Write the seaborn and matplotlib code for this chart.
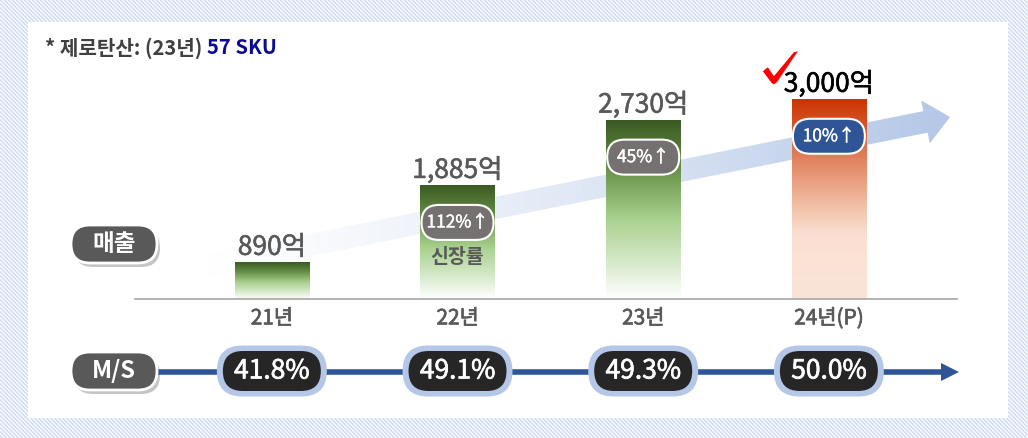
import numpy as np
import pandas as pd
import matplotlib
matplotlib.use('Agg')
import matplotlib.pyplot as plt
import matplotlib.patches as mpatches
import matplotlib.patheffects as pe
from matplotlib.colors import LinearSegmentedColormap, to_rgb
import seaborn as sns

# data
years = ['21년', '22년', '23년', '24년(P)']
sales = [890, 1885, 2730, 3000]          # 억
growth = [None, 112, 45, 10]             # % vs previous year
ms_share = [41.8, 49.1, 49.3, 50.0]      # market share %
note_text = '* 제로탄산: (23년) '
note_sku = '57 SKU'

W, H = 1028, 438

sns.set_theme(style='white')
plt.rcParams['font.family'] = ['Noto Sans CJK KR', 'DejaVu Sans']


def heavy(color, lw=0.6):
    # fake a semi-bold weight
    return [pe.withStroke(linewidth=lw, foreground=color)]


fig = plt.figure(figsize=(W / 100, H / 100), dpi=100)

# --- background layer (pixel coords): striped frame, white panel, trend arrow
bg = fig.add_axes([0, 0, 1, 1], zorder=0)
yy, xx = np.mgrid[0:H, 0:W]
stripe = ((xx - yy) % 4) < 2
tex = np.where(stripe[..., None], np.array(to_rgb('#d3def3')), np.array(to_rgb('#f5f8fd')))
bg.imshow(tex, extent=[0, W, H, 0], aspect='auto', interpolation='nearest', zorder=0)
bg.add_patch(mpatches.Rectangle((28, 22), 980, 396, facecolor='white', edgecolor='none', zorder=1))

start = np.array([195., 268.])
tip = np.array([950., 117.])
d = tip - start
arrow = mpatches.FancyArrow(start[0], start[1], d[0], d[1], width=22, head_width=44,
                            head_length=25, length_includes_head=True,
                            facecolor='none', edgecolor='none', zorder=1)
bg.add_patch(arrow)
grad = np.zeros((1, 256, 4))
grad[..., :3] = to_rgb('#b4c7e7')
grad[0, :, 3] = np.linspace(0, 1, 256) ** 1.3
im = bg.imshow(grad, extent=[start[0], tip[0], 300, 80], aspect='auto',
               interpolation='bilinear', zorder=2)
im.set_clip_path(arrow)
bg.set_xlim(0, W)
bg.set_ylim(H, 0)
bg.axis('off')

# --- bar chart
ax = fig.add_axes([135 / W, 139 / H, 822 / W, 277 / H], zorder=1)
df = pd.DataFrame({'year': years, 'sales': sales})
sns.barplot(data=df, x='year', y='sales', hue='year', legend=False, width=0.4,
            palette=['#6f9a4e'] * 3 + ['#e07b56'], errorbar=None, ax=ax)
ax.set_xlim(-0.737, 3.69)
ax.set_ylim(415, 4000)
ymin = ax.get_ylim()[0]

green = LinearSegmentedColormap.from_list('g', [(0, '#3b5a24'), (0.25, '#628c43'), (0.55, '#a9d18e'),
                                                (0.8, '#d7eacb'), (1, '#ffffff')])
red = LinearSegmentedColormap.from_list('r', [(0, '#cc3300'), (0.3, '#e2825f'), (0.55, '#f3c4ab'),
                                              (0.68, '#f9e0d2'), (1, '#fae4d8')])
col = np.linspace(0, 1, 256).reshape(-1, 1)
for bar, cm in zip(ax.patches, [green] * 3 + [red]):
    x0, w, h = bar.get_x(), bar.get_width(), bar.get_height()
    img = ax.imshow(col, cmap=cm, extent=[x0, x0 + w, ymin, h], aspect='auto',
                    interpolation='bicubic', zorder=2)
    img.set_clip_path(bar)
    bar.set_facecolor('none')
    bar.set_edgecolor('none')
ax.set_xlim(-0.737, 3.69)
ax.set_ylim(415, 4000)

for i, v in enumerate(sales):
    c = '#000000' if i == 3 else '#595959'
    ax.annotate(f'{v:,}억', (i, v), xytext=(0, 5.4), textcoords='offset points',
                ha='center', va='baseline', fontsize=19, color=c, path_effects=heavy(c, 0.4))

ax.patch.set_alpha(0)
for s in ['left', 'top', 'right']:
    ax.spines[s].set_visible(False)
ax.spines['bottom'].set_color('#a6a6a6')
ax.spines['bottom'].set_linewidth(1.2)
ax.set_yticks([])
ax.set_xlabel('')
ax.set_ylabel('')
ax.tick_params(axis='x', length=0, pad=6, labelsize=15, labelcolor='#595959')
for lbl in ax.get_xticklabels():
    lbl.set_path_effects(heavy('#595959', 0.5))

# --- overlay (pixel coords): pills, M/S timeline, notes
ov = fig.add_axes([0, 0, 1, 1], zorder=3)
ov.set_xlim(0, W)
ov.set_ylim(H, 0)
ov.axis('off')


def to_px(x, y):
    dx, dy = ax.transData.transform((x, y))
    return dx, H - dy


def pill(cx, cy, w, h, fc, ec='none', lw=0, z=4, alpha=1):
    p = mpatches.FancyBboxPatch((cx - w / 2, cy - h / 2), w, h,
                                boxstyle=f'round,pad=0,rounding_size={h / 2}',
                                fc=fc, ec=ec, lw=lw, zorder=z, alpha=alpha)
    ov.add_patch(p)


# growth rate pills
first = True
for i, g in enumerate(growth):
    if g is None:
        continue
    cx, top = to_px(i, sales[i])
    cy = top + 37
    pill(cx, cy, 72, 35, '#2f5597' if i == 3 else '#767171', ec='white', lw=1.5)
    ov.text(cx, cy, f'{g}%↑', ha='center', va='center', color='white', fontsize=12.5,
            zorder=5, path_effects=heavy('white', 0.3))
    if first:
        ov.text(cx, top + 72, '신장률', ha='center', va='center', color='#595959',
                fontsize=14, weight='bold', zorder=5)
        first = False

# check mark on the forecast bar
cx, top = to_px(3, sales[3])
ox, oy = cx - 66, top - 48
check = [(0, 20), (5, 16), (11, 25), (31, 1), (35, 0), (14, 31), (11, 33), (9, 32)]
ov.add_patch(mpatches.Polygon([(ox + a, oy + b) for a, b in check], closed=True,
                              fc='#ff0000', ec='none', zorder=5))

# row labels
for label, cy in [('매출', 244), ('M/S', 371)]:
    pill(117, cy + 4, 86, 38, '#7f7f7f', z=3, alpha=0.45)
    pill(114, cy, 86, 38, '#595959', ec='white', lw=2, z=4)
    ov.text(114, cy, label, ha='center', va='center', color='white', fontsize=17,
            weight='bold', zorder=5)

# market share timeline
ov.plot([157, 945], [372, 372], color='#2f5597', lw=4, zorder=3, solid_capstyle='butt')
ov.add_patch(mpatches.Polygon([(941, 363), (959, 372), (941, 381)], closed=True,
                              fc='#2f5597', ec='none', zorder=3))
for i, v in enumerate(ms_share):
    cx, _ = to_px(i, sales[i])
    pill(cx, 371, 110, 51, '#b4c7e7', z=4)
    pill(cx, 371, 98, 40, '#262626', z=5)
    ov.text(cx, 371, f'{v:.1f}%', ha='center', va='center', color='white', fontsize=19,
            zorder=6, path_effects=heavy('white', 0.5))

# note
t = ov.text(45, 48, note_text, ha='left', va='center', color='#404040', fontsize=14.5,
            weight='bold', zorder=5)
ov.annotate(note_sku, xy=(1, 0.5), xycoords=t, ha='left', va='center', color='#0a0a96',
            fontsize=14.5, weight='bold', zorder=5)

fig.savefig('out.png', dpi=100)
